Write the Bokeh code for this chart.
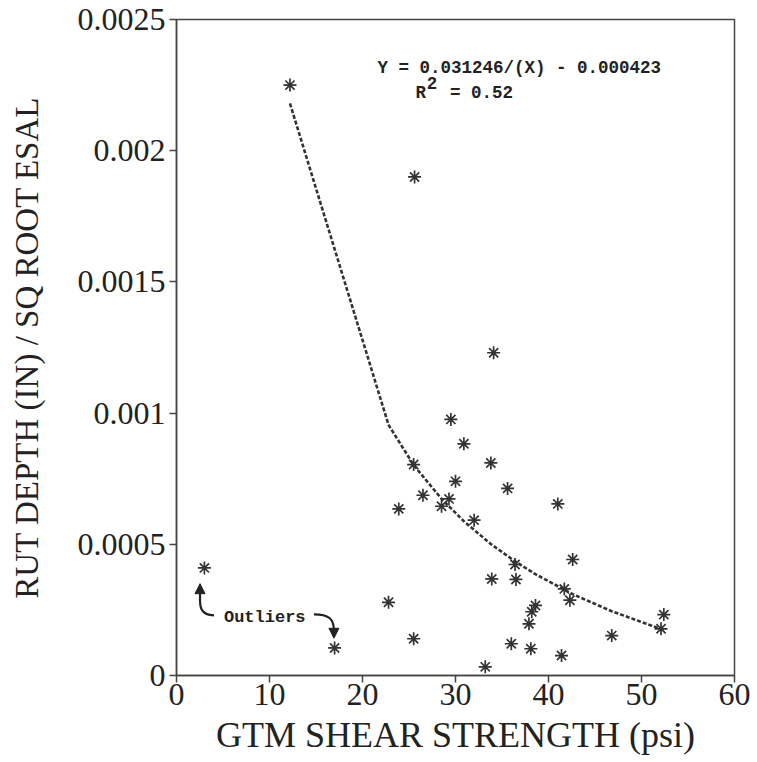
from bokeh.plotting import figure
from bokeh.models import Range1d, FixedTicker, Label, Arrow, NormalHead
from bokeh.embed import file_html
from bokeh.resources import INLINE

# ---- data ----
shear_psi = [3.0, 12.2, 17.0, 22.8, 23.9, 25.5, 25.5, 25.6, 26.5, 28.5, 29.3, 29.5,
             30.0, 30.9, 32.0, 33.2, 33.8, 33.9, 34.1, 35.6, 36.0, 36.4, 36.5, 37.9,
             38.1, 38.2, 38.6, 41.0, 41.4, 41.7, 42.3, 42.6, 46.8, 52.1, 52.4]
rut_rate = [0.000410, 0.002250, 0.000105, 0.000279, 0.000635, 0.000804, 0.000140, 0.001900,
            0.000687, 0.000645, 0.000673, 0.000976, 0.000740, 0.000883, 0.000592, 0.000033,
            0.000810, 0.000368, 0.001230, 0.000713, 0.000121, 0.000423, 0.000366, 0.000197,
            0.000102, 0.000243, 0.000267, 0.000654, 0.000076, 0.000330, 0.000287, 0.000442,
            0.000152, 0.000178, 0.000232]

fit_x = [12.2, 22.8, 25.5, 28.5, 30.9, 33.8, 36.4, 38.6, 42.6, 46.8, 52.4]
fit_y = [0.002180, 0.000955, 0.000802, 0.000673, 0.000588, 0.000501, 0.000435,
         0.000386, 0.000310, 0.000245, 0.000173]

x_ticks = [0, 10, 20, 30, 40, 50, 60]
y_ticks = [0, 0.0005, 0.001, 0.0015, 0.002, 0.0025]
y_tick_labels = ["0", "0.0005", "0.001", "0.0015", "0.002", "0.0025"]

x_title = "GTM SHEAR STRENGTH (psi)"
y_title = "RUT DEPTH (IN) / SQ ROOT ESAL"
eq_text = "Y = 0.031246/(X) - 0.000423"
r2_text = "= 0.52"
outlier_text = "Outliers"

# ---- figure ----
INK = "#333333"
AXC = "#444444"
TXT = "#222222"
SERIF = "Liberation Serif"
MONO = "Liberation Mono"

p = figure(width=757, height=762, output_backend="svg", toolbar_location=None,
           x_range=Range1d(0, 60), y_range=Range1d(0, 0.0025),
           min_border_left=176, min_border_right=23, min_border_top=19, min_border_bottom=87,
           x_axis_label=x_title, y_axis_label=y_title)

p.xgrid.grid_line_color = None
p.ygrid.grid_line_color = None
p.outline_line_color = AXC
p.outline_line_width = 1.5
p.background_fill_color = "white"
p.border_fill_color = "white"

p.xaxis.ticker = FixedTicker(ticks=x_ticks)
p.yaxis.ticker = FixedTicker(ticks=y_ticks)
p.yaxis.major_label_overrides = dict(zip(y_ticks, y_tick_labels))

for ax in (p.xaxis[0], p.yaxis[0]):
    ax.axis_line_color = AXC
    ax.axis_line_width = 1.5
    ax.major_tick_line_color = AXC
    ax.major_tick_line_width = 1.5
    ax.major_tick_out = 7
    ax.major_tick_in = 0
    ax.minor_tick_line_color = None
    ax.major_label_text_font = SERIF
    ax.major_label_text_font_size = "32px"
    ax.major_label_text_color = TXT
    ax.axis_label_text_font = SERIF
    ax.axis_label_text_font_style = "normal"
    ax.axis_label_text_color = TXT

p.xaxis.axis_label_text_font_size = "36px"
p.yaxis.axis_label_text_font_size = "33px"
p.xaxis.major_label_standoff = 1
p.xaxis.axis_label_standoff = 7
p.yaxis.major_label_standoff = 4
p.yaxis.axis_label_standoff = 30

# fitted curve
p.line(fit_x, fit_y, line_color=INK, line_width=2.6, line_dash="4 2")

# data points
p.scatter(shear_psi, rut_rate, marker="asterisk", size=13, line_color=INK, line_width=1.7)

# equation annotation
common = dict(text_font=MONO, text_font_style="bold", text_font_size="17.5px",
              text_color=TXT, text_baseline="alphabetic")
p.add_layout(Label(x=21.6, y=0.002317, text=eq_text, **common))
p.add_layout(Label(x=25.7, y=0.002219, text="R", **common))
p.add_layout(Label(x=26.9, y=0.002257, text="2", **common))
p.add_layout(Label(x=29.4, y=0.002219, text=r2_text, **common))

# outliers annotation
p.add_layout(Label(x=5.1, y=0.000221, text=outlier_text, text_font=MONO, text_font_style="bold",
                   text_font_size="17px", text_color=TXT, text_baseline="alphabetic"))

p.bezier(x0=[4.04, 14.78], y0=[0.000229, 0.000233],
         x1=[2.53, 16.93], y1=[0.000300, 0.000170],
         cx0=[2.50, 16.36], cy0=[0.000229, 0.000233],
         cx1=[2.50, 16.93], cy1=[0.000267, 0.000217],
         line_color=TXT, line_width=2.2)
p.add_layout(Arrow(end=NormalHead(size=10, fill_color=TXT, line_color=TXT),
                   x_start=2.53, y_start=0.000295, x_end=2.53, y_end=0.000350,
                   line_color=TXT, line_width=2.2))
p.add_layout(Arrow(end=NormalHead(size=10, fill_color=TXT, line_color=TXT),
                   x_start=16.93, y_start=0.000175, x_end=16.93, y_end=0.000142,
                   line_color=TXT, line_width=2.2))

open("out.html", "w").write(file_html(p, INLINE))
